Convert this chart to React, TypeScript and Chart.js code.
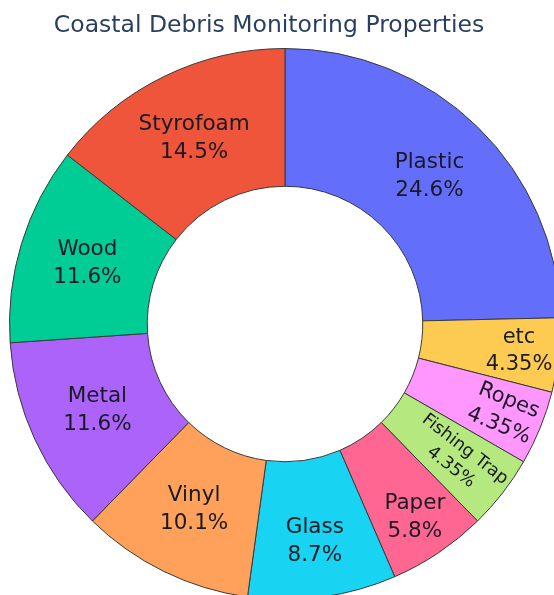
import React, { useEffect, useRef } from "react";
import { Chart, registerables } from "chart.js";

Chart.register(...registerables);

const TITLE = "Coastal Debris Monitoring Properties";
const categories = ["Plastic", "etc", "Ropes", "Fishing Trap", "Paper", "Glass", "Vinyl", "Metal", "Wood", "Styrofoam"];
const counts = [17, 3, 3, 3, 4, 6, 7, 8, 8, 10];
const colors = ["#636efa", "#FECB52", "#FF97FF", "#B6E880", "#FF6692", "#19d3f3", "#FFA15A", "#ab63fa", "#00cc96", "#EF553B"];

// label style: radial position within ring (0 inner .. 1 outer), font size, orientation
const labelRadial = [0.5, 0.71, 0.715, 0.59, 0.69, 0.59, 0.5, 0.5, 0.5, 0.5];
const labelSize = [21.5, 21, 21, 17.5, 21.5, 21.5, 21.5, 21.5, 21.5, 21.5];
const labelRadialOrient = [false, false, true, true, false, false, false, false, false, false];

function fmtPct(v: number, total: number): string {
  const p = (v / total) * 100;
  let s = p.toPrecision(3);
  if (s.indexOf(".") >= 0) s = s.replace(/0+$/, "").replace(/\.$/, "");
  return s + "%";
}

const FONT = "'DejaVu Sans', Verdana, sans-serif";

const labelPlugin = {
  id: "sliceLabels",
  afterDatasetsDraw(chart: any) {
    const ctx = chart.ctx;
    const meta = chart.getDatasetMeta(0);
    const data = chart.data.datasets[0].data as number[];
    const total = data.reduce((a, b) => a + b, 0);
    ctx.save();
    meta.data.forEach((arc: any, i: number) => {
      const { x, y, startAngle, endAngle, innerRadius, outerRadius } = arc.getProps(
        ["x", "y", "startAngle", "endAngle", "innerRadius", "outerRadius"],
        true
      );
      const a = (startAngle + endAngle) / 2;
      const r = innerRadius + labelRadial[i] * (outerRadius - innerRadius);
      const px = x + r * Math.cos(a);
      const py = y + r * Math.sin(a);
      const size = labelSize[i];
      const lh = size * 1.3;
      ctx.save();
      ctx.translate(px, py);
      if (labelRadialOrient[i]) ctx.rotate(a);
      ctx.font = `${size}px ${FONT}`;
      ctx.fillStyle = "#1a1a24";
      ctx.textAlign = "center";
      ctx.textBaseline = "middle";
      ctx.fillText(chart.data.labels[i], 0, -lh / 2);
      ctx.fillText(fmtPct(data[i], total), 0, lh / 2);
      ctx.restore();
    });
    ctx.restore();
  },
};

const titlePlugin = {
  id: "plotTitle",
  afterDraw(chart: any) {
    const ctx = chart.ctx;
    ctx.save();
    ctx.font = `23.5px ${FONT}`;
    ctx.fillStyle = "#2a3f5f";
    ctx.textAlign = "center";
    ctx.textBaseline = "alphabetic";
    ctx.fillText(TITLE, 269, 32);
    ctx.restore();
  },
};

export default function App() {
  const ref = useRef<HTMLCanvasElement | null>(null);
  useEffect(() => {
    if (!ref.current) return;
    const chart = new Chart(ref.current, {
      type: "doughnut",
      data: {
        labels: categories,
        datasets: [
          {
            data: counts,
            backgroundColor: colors,
            borderColor: "#3a3a3a",
            borderWidth: 1,
          },
        ],
      },
      options: {
        responsive: false,
        animation: false,
        cutout: "50%",
        rotation: 0,
        layout: { padding: { left: 9, top: 48, right: 39, bottom: 0 } },
        plugins: {
          legend: { display: false },
          tooltip: { enabled: false },
          title: { display: false },
        },
      },
      plugins: [labelPlugin, titlePlugin],
    });
    return () => chart.destroy();
  }, []);
  return (
    <div style={{ position: "fixed", left: 0, top: 0, width: 554, height: 595, overflow: "hidden", background: "#fff" }}>
      <canvas ref={ref} width={600} height={600} style={{ display: "block" }} />
    </div>
  );
}
